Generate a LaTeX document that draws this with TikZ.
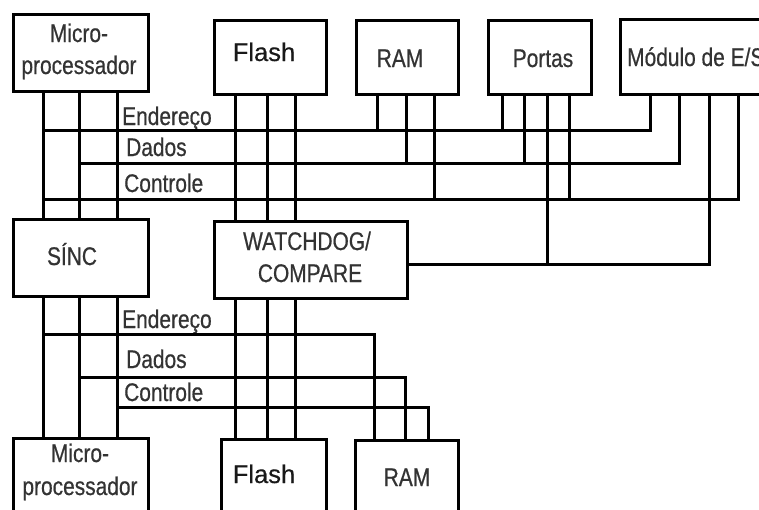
\documentclass[tikz,border=0pt]{standalone}
\usepackage{fontspec}
\setmainfont{Liberation Sans}
\newfontfamily\condfont[FakeStretch=0.82,FakeBold=0.6]{Liberation Sans}
\newfontfamily\flashfont[FakeBold=0.4]{Liberation Sans}
\begin{document}
\begin{tikzpicture}[x=1pt,y=-1pt,
  box/.style={draw, line width=3pt, rectangle, inner sep=0pt, anchor=north west},
  bus/.style={line width=3pt},
  lbl/.style={font=\condfont\fontsize{25.5}{30}\selectfont, inner sep=0pt, anchor=base, text=black!80},
  lblw/.style={lbl, anchor=base west},
  flashlbl/.style={font=\flashfont\fontsize{25.5}{30}\selectfont, inner sep=0pt, anchor=base, text=black!90}]
\useasboundingbox (0,0) rectangle (759,509);
\clip (0,0) rectangle (759,509);

% boxes
\node[box, minimum width=135, minimum height=77] (m1) at (12,13) {};
\node[box, minimum width=112, minimum height=74] (f1) at (213,19) {};
\node[box, minimum width=102, minimum height=74] (r1) at (355,19) {};
\node[box, minimum width=103, minimum height=74] (p1) at (487,19) {};
\node[box, minimum width=200, minimum height=75] (e1) at (619,18) {};
\node[box, minimum width=135, minimum height=77] (s) at (12,218) {};
\node[box, minimum width=193, minimum height=77] (w) at (213,220) {};
\node[box, minimum width=135, minimum height=100] (m2) at (12,437) {};
\node[box, minimum width=105, minimum height=100] (f2) at (220,438) {};
\node[box, minimum width=103, minimum height=100] (r2) at (354,439) {};

% texts
\node[lbl] (t1) at (79,42) {Micro-};
\node[lbl] (t2) at (79,74) {processador};
\node[flashlbl] (t3) at (264,61) {Flash};
\node[lbl] (t4) at (400,67) {RAM};
\node[lbl] (t5) at (543,67) {Portas};
\node[lblw] (t6) at (627,66) {Módulo de E/S};
\node[lbl] (t7) at (72,265) {SÍNC};
\node[lbl] (t8) at (307,250) {WATCHDOG/};
\node[lbl] (t9) at (310,282) {COMPARE};
\node[lbl] (t10) at (80,462) {Micro-};
\node[lbl] (t11) at (80,495) {processador};
\node[flashlbl] (t12) at (264,483) {Flash};
\node[lbl] (t13) at (407,486) {RAM};
\node[lblw] (l1) at (122,125) {Endereço};
\node[lblw] (l2) at (126,156) {Dados};
\node[lblw] (l3) at (124,192) {Controle};
\node[lblw] (l4) at (122,328) {Endereço};
\node[lblw] (l5) at (126,368) {Dados};
\node[lblw] (l6) at (124,401) {Controle};

% bus x positions
\coordinate (xa) at (43,0);
\coordinate (xb) at (79,0);
\coordinate (xc) at (117,0);
\coordinate (xf1) at (235,0);
\coordinate (xf2) at (267,0);
\coordinate (xf3) at (295,0);
\coordinate (xr1) at (377,0);
\coordinate (xr2) at (406,0);
\coordinate (xr3) at (434,0);
\coordinate (xp1) at (502,0);
\coordinate (xp2) at (524,0);
\coordinate (xp3) at (547,0);
\coordinate (xp4) at (569,0);
\coordinate (xe1) at (650,0);
\coordinate (xe2) at (679,0);
\coordinate (xe3) at (709,0);
\coordinate (xe4) at (738,0);
\coordinate (xR1) at (374,0);
\coordinate (xR2) at (405,0);
\coordinate (xR3) at (428,0);
% bus y positions
\coordinate (yE1) at (0,130);
\coordinate (yD1) at (0,163);
\coordinate (yC1) at (0,199);
\coordinate (yW) at (0,264);
\coordinate (yE2) at (0,334);
\coordinate (yD2) at (0,377);
\coordinate (yC2) at (0,407);

% upper section
\foreach \c in {xa,xb,xc} \draw[bus] (m1.south -| \c) -- (s.north -| \c);
\foreach \c in {xf1,xf2,xf3} \draw[bus] (f1.south -| \c) -- (w.north -| \c);
\draw[bus] (e1.south -| xe1) |- (xa |- yE1);
\draw[bus] (r1.south -| xr1) -- (xr1 |- yE1);
\draw[bus] (p1.south -| xp1) -- (xp1 |- yE1);
\draw[bus] (e1.south -| xe2) |- (xb |- yD1);
\draw[bus] (r1.south -| xr2) -- (xr2 |- yD1);
\draw[bus] (p1.south -| xp2) -- (xp2 |- yD1);
\draw[bus] (e1.south -| xe4) |- (xa |- yC1);
\draw[bus] (r1.south -| xr3) -- (xr3 |- yC1);
\draw[bus] (p1.south -| xp4) -- (xp4 |- yC1);
\draw[bus] (e1.south -| xe3) |- (w.east |- yW);
\draw[bus] (p1.south -| xp3) -- (xp3 |- yW);

% lower section
\foreach \c in {xa,xb,xc} \draw[bus] (s.south -| \c) -- (m2.north -| \c);
\foreach \c in {xf1,xf2,xf3} \draw[bus] (w.south -| \c) -- (f2.north -| \c);
\draw[bus] (r2.north -| xR1) |- (xa |- yE2);
\draw[bus] (r2.north -| xR2) |- (xb |- yD2);
\draw[bus] (r2.north -| xR3) |- (xc |- yC2);
\end{tikzpicture}
\end{document}
